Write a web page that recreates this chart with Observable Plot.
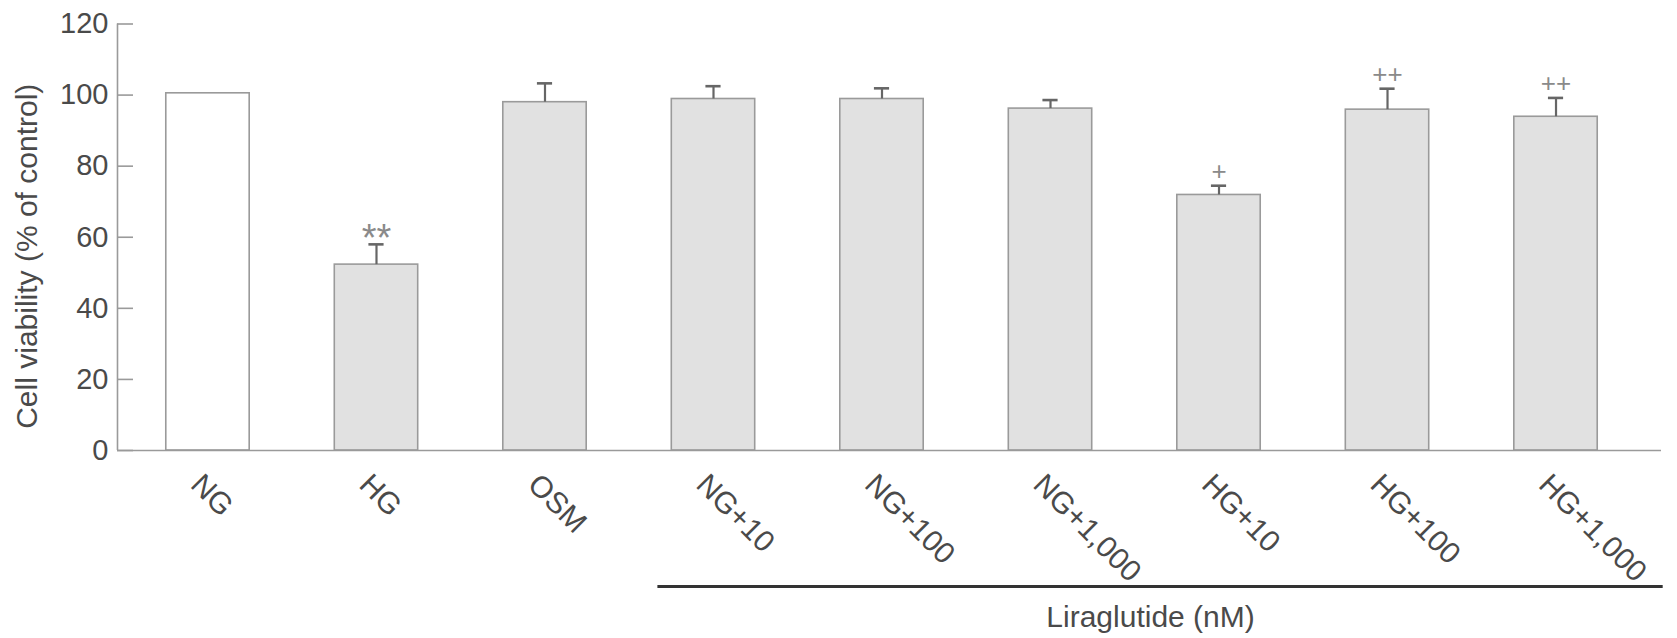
<!DOCTYPE html>
<html>
<head>
<meta charset="utf-8">
<script src="https://cdn.jsdelivr.net/npm/d3@7"></script>
<script src="https://cdn.jsdelivr.net/npm/@observablehq/plot@0.6"></script>
<style>
  html, body { margin: 0; padding: 0; background: #fff; }
</style>
</head>
<body>
<div id="chart"></div>
<script>
// ---- data ----
const groups = ["NG", "HG", "OSM", "NG+10", "NG+100", "NG+1,000", "HG+10", "HG+100", "HG+1,000"];
const viability = [100.5, 52.3, 98.0, 98.9, 98.9, 96.2, 71.9, 95.9, 93.9];
const sem = [0, 5.7, 5.3, 3.6, 3.0, 2.4, 2.6, 5.9, 5.3];
const significance = ["", "**", "", "", "", "", "+", "++", "++"];
const yTicks = [0, 20, 40, 60, 80, 100, 120];
const yLabel = "Cell viability (% of control)";
const liraGroups = ["NG+10", "NG+100", "NG+1,000", "HG+10", "HG+100", "HG+1,000"];
const liraLabel = "Liraglutide (nM)";
const controlGroup = "NG";

const data = groups.map((g, i) => ({
  group: g, i, value: viability[i], err: sem[i], top: viability[i] + sem[i], sig: significance[i]
}));

const half = 0.2475;   // half bar width in x units
const cap = 0.045;     // half error-cap width
const xDomain = [-0.537, 8.626];
const liraX1 = groups.indexOf(liraGroups[0]) - 0.33;
const liraX2 = xDomain[1] + 0.01;

const chart = Plot.plot({
  width: 1677,
  height: 638,
  marginLeft: 117,
  marginRight: 16,
  marginTop: 23.5,
  marginBottom: 188,
  style: {fontFamily: "'Liberation Sans', Arial, sans-serif", background: "#fff", color: "#4a4a4a"},
  x: {type: "linear", domain: xDomain, axis: null},
  y: {domain: [0, 120], axis: null},
  marks: [
    // bars
    Plot.rectY(data, {
      x1: d => d.i - half, x2: d => d.i + half, y: "value",
      fill: d => d.group === controlGroup ? "#ffffff" : "#e1e1e1",
      stroke: "#9a9a9a", strokeWidth: 1.6
    }),
    // error bars
    Plot.ruleX(data.filter(d => d.err > 0), {x: "i", y1: "value", y2: "top", stroke: "#666", strokeWidth: 2.2}),
    Plot.ruleY(data.filter(d => d.err > 0), {y: "top", x1: d => d.i - cap, x2: d => d.i + cap, stroke: "#666", strokeWidth: 2.6}),
    // significance: asterisks (vs NG) and plus signs (vs HG)
    Plot.text(data.filter(d => d.sig.includes("*")), {
      x: "i", y: "top", text: "sig", dy: -6, lineAnchor: "middle",
      fill: "#8a8a8a", fontSize: 38
    }),
    Plot.text(data.filter(d => d.sig.includes("+")), {
      x: "i", y: "top", text: "sig", dy: -14, lineAnchor: "middle",
      fill: "#8a8a8a", fontSize: 26, fontWeight: 300
    }),
    // baseline
    Plot.ruleY([0], {stroke: "#9a9a9a", strokeWidth: 1.6}),
    // y axis line
    Plot.ruleX([xDomain[0]], {y1: 0, y2: 120, stroke: "#9a9a9a", strokeWidth: 1.6}),
    // y axis ticks + labels
    Plot.axisY({
      ticks: yTicks, tickSize: -16, tickPadding: 25, fontSize: 29,
      stroke: "#9a9a9a", strokeWidth: 1.6, fill: "#4a4a4a", label: null
    }),
    // y axis title
    Plot.text([yLabel], {
      frameAnchor: "left", text: d => d, rotate: -90, dx: -90, dy: 19,
      fontSize: 30, fill: "#4a4a4a", lineAnchor: "middle", textAnchor: "middle"
    }),
    // x labels
    Plot.text(data, {
      x: "i", y: 0, text: "group", rotate: 45, textAnchor: "start", lineAnchor: "middle",
      dx: -12, dy: 29, fontSize: 30, fill: "#4a4a4a"
    }),
    // liraglutide bracket
    Plot.ruleY([0], {x1: liraX1, x2: liraX2, dy: 136, stroke: "#333", strokeWidth: 3}),
    Plot.text([liraLabel], {
      x: (liraX1 + liraX2) / 2, y: 0, text: d => d, dx: -10, dy: 167, fontSize: 30,
      fill: "#4a4a4a", lineAnchor: "middle"
    })
  ]
});
document.getElementById("chart").appendChild(chart);
</script>
</body>
</html>
